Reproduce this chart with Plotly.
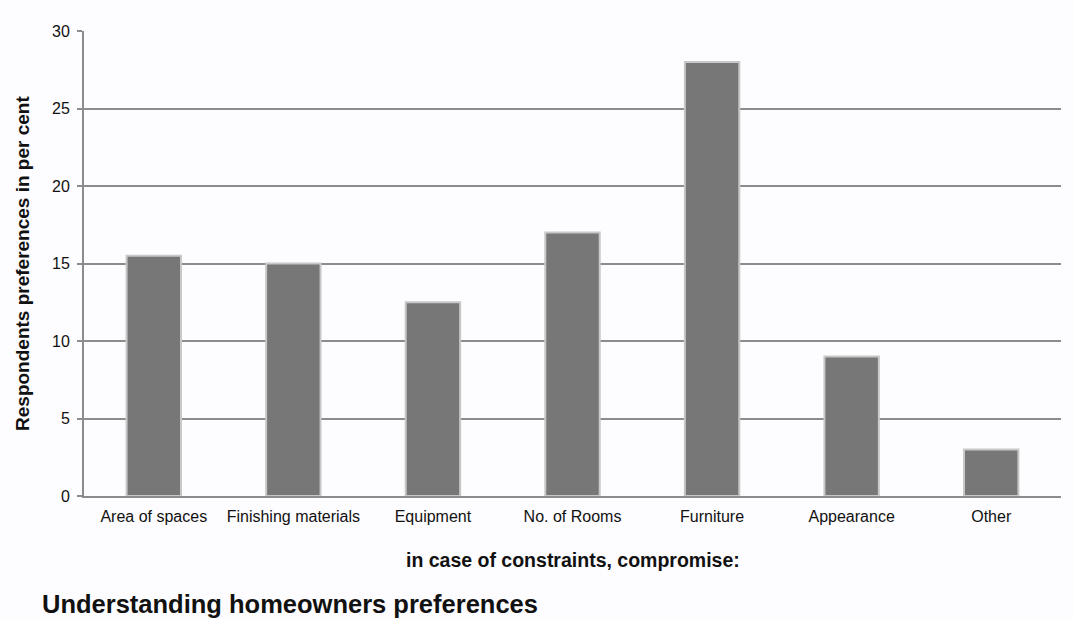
import plotly.graph_objects as go

categories = ["Area of spaces", "Finishing materials", "Equipment", "No. of Rooms",
              "Furniture", "Appearance", "Other"]
values = [15.5, 15, 12.5, 17, 28, 9, 3]
y_ticks = [0, 5, 10, 15, 20, 25, 30]

FONT = "Liberation Sans, Arial, sans-serif"
BG = "#fdfcfe"

fig = go.Figure()
fig.add_trace(go.Bar(
    x=categories, y=values,
    width=0.39,
    marker=dict(color="#777777", line=dict(color="#c8c8c8", width=2)),
))

fig.update_layout(
    width=1074, height=619,
    margin=dict(l=84, r=13, t=31, b=123),
    paper_bgcolor=BG, plot_bgcolor=BG,
    showlegend=False,
    font=dict(family=FONT, size=16, color="#111111"),
    xaxis=dict(
        showline=True, linecolor="#8c8c8c", linewidth=2,
        showgrid=False, ticks="", tickfont=dict(size=16),
        ticklabelstandoff=5,
    ),
    yaxis=dict(
        range=[0, 30], tickvals=y_ticks,
        showline=True, linecolor="#8c8c8c", linewidth=2,
        showgrid=True, gridcolor="#8c8c8c", gridwidth=1.5,
        ticks="outside", ticklen=5, tickcolor="#8c8c8c", tickwidth=1.5,
        tickfont=dict(size=16), zeroline=False, ticklabelstandoff=4,
    ),
    annotations=[
        dict(text="<b>in case of constraints, compromise:</b>", xref="paper", yref="paper",
             x=0.5, y=-0.138, xanchor="center", yanchor="middle", showarrow=False,
             font=dict(size=19.5, family=FONT, color="#111111")),
        dict(text="<b>Respondents preferences in per cent</b>", xref="paper", yref="paper",
             x=-0.063, y=0.5, xanchor="center", yanchor="middle", showarrow=False,
             textangle=-90, font=dict(size=19, family=FONT, color="#111111")),
        dict(text="<b>Understanding homeowners preferences</b>", xref="paper", yref="paper",
             x=-0.045, y=-0.232, xanchor="left", yanchor="middle", showarrow=False,
             font=dict(size=25.5, family=FONT, color="#111111")),
    ],
)

fig.write_html("out.html")
